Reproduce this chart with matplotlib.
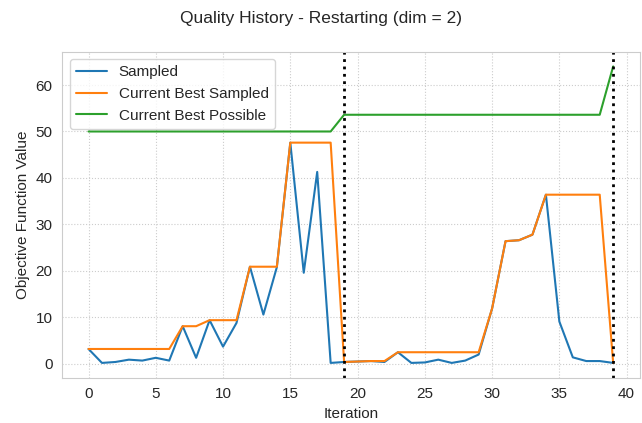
import matplotlib
matplotlib.use("Agg")
import matplotlib.pyplot as plt
import seaborn as sns

iterations = list(range(40))
sampled = [3.2, 0.2, 0.4, 0.9, 0.7, 1.3, 0.7, 8.1, 1.3, 9.4,
           3.7, 8.8, 20.9, 10.6, 20.8, 47.6, 19.6, 41.3, 0.2, 0.4,
           0.5, 0.6, 0.4, 2.5, 0.2, 0.3, 0.9, 0.2, 0.7, 2.0,
           11.9, 26.4, 26.6, 27.8, 36.4, 9.1, 1.4, 0.6, 0.6, 0.2]
best_sampled = [3.2, 3.2, 3.2, 3.2, 3.2, 3.2, 3.2, 8.1, 8.1, 9.4,
                9.4, 9.4, 20.9, 20.9, 20.9, 47.6, 47.6, 47.6, 47.6, 0.4,
                0.5, 0.6, 0.6, 2.5, 2.5, 2.5, 2.5, 2.5, 2.5, 2.5,
                11.9, 26.4, 26.6, 27.8, 36.4, 36.4, 36.4, 36.4, 36.4, 0.2]
best_possible = [50.0] * 19 + [53.6] * 20 + [64.0]
restarts = [19, 39]

sns.set_style("whitegrid", {"grid.linestyle": ":"})
plt.rcParams['font.family'] = ['Liberation Sans', 'DejaVu Sans']
plt.rcParams['font.size'] = 11

fig, ax = plt.subplots(figsize=(6.42, 4.23), dpi=100)
ax.plot(iterations, sampled, label="Sampled")
ax.plot(iterations, best_sampled, label="Current Best Sampled")
ax.plot(iterations, best_possible, label="Current Best Possible")
for r in restarts:
    ax.axvline(r, color="black", linestyle=":", linewidth=2)

ax.set_xlim(-1.95, 41.0)
ax.set_xlabel("Iteration", fontsize=11)
ax.set_ylabel("Objective Function Value", fontsize=11)
ax.tick_params(labelsize=11)
ax.legend(loc="upper left", fontsize=11)
fig.suptitle("Quality History - Restarting (dim = 2)", fontsize=12.5, y=0.975)
fig.subplots_adjust(left=0.097, right=0.997, top=0.878, bottom=0.107)
fig.savefig("out.png")
